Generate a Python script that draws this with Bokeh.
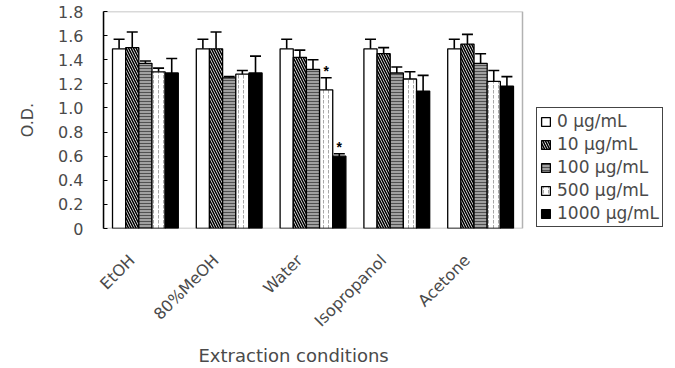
import numpy as np
from bokeh.plotting import figure
from bokeh.models import (ColumnDataSource, Whisker, TeeHead, FixedTicker, Legend,
                          LegendItem, LabelSet, Range1d, PrintfTickFormatter, BoxAnnotation, Title)
from bokeh.embed import file_html
from bokeh.resources import INLINE

categories = ["EtOH", "80%MeOH", "Water", "Isopropanol", "Acetone"]
series_labels = ["0 \u03bcg/mL", "10 \u03bcg/mL", "100 \u03bcg/mL", "500 \u03bcg/mL", "1000 \u03bcg/mL"]

od_0 = [1.49, 1.49, 1.49, 1.49, 1.49]
od_10 = [1.50, 1.49, 1.42, 1.45, 1.53]
od_100 = [1.37, 1.25, 1.32, 1.29, 1.37]
od_500 = [1.30, 1.28, 1.15, 1.24, 1.22]
od_1000 = [1.29, 1.29, 0.60, 1.14, 1.18]

err_0 = [0.08, 0.08, 0.08, 0.08, 0.08]
err_10 = [0.13, 0.14, 0.06, 0.05, 0.08]
err_100 = [0.02, 0.01, 0.08, 0.05, 0.08]
err_500 = [0.03, 0.03, 0.10, 0.06, 0.09]
err_1000 = [0.12, 0.14, 0.02, 0.13, 0.08]

sig_0 = ["", "", "", "", ""]
sig_10 = ["", "", "", "", ""]
sig_100 = ["", "", "", "", ""]
sig_500 = ["", "", "*", "", ""]
sig_1000 = ["", "", "*", "", ""]

y_ticks = [0, 0.2, 0.4, 0.6, 0.8, 1.0, 1.2, 1.4, 1.6, 1.8]

values = [od_0, od_10, od_100, od_500, od_1000]
errors = [err_0, err_10, err_100, err_500, err_1000]
sigs = [sig_0, sig_10, sig_100, sig_500, sig_1000]

styles = [
    dict(fill_color="white", hatch_pattern=None),
    dict(fill_color="white", hatch_pattern="\\", hatch_color="black", hatch_scale=5, hatch_weight=1.6),
    dict(fill_color="#a0a0a0", hatch_pattern="-", hatch_color="#505050", hatch_scale=3, hatch_weight=1),
    dict(fill_color="white", hatch_pattern=":", hatch_color="#a8a8a8", hatch_scale=5, hatch_weight=1),
    dict(fill_color="black", hatch_pattern=None),
]

FONT = "DejaVu Sans"
TXT = "#4a4a4a"

n_cat = len(categories)
x_lo, x_hi = -0.5, n_cat - 0.5
# frame extends to the right edge so the legend (outside the boxed plot area) is not clipped
frame_px = 675 - 103
box_px = 419
x_view_hi = x_lo + (x_hi - x_lo) * frame_px / box_px

p = figure(width=675, height=368, x_range=Range1d(x_lo, x_view_hi), y_range=Range1d(0, 1.8),
           output_backend="svg", toolbar_location=None,
           min_border_left=103, min_border_right=0, min_border_top=11, min_border_bottom=138)
p.grid.visible = False
p.outline_line_color = None
p.background_fill_color = "white"
p.border_fill_color = "white"

p.add_layout(BoxAnnotation(left=x_lo, right=x_hi, bottom=0, top=1.8, fill_alpha=0,
                           line_color="black", line_width=1.5, level="overlay"))

bar_w = 0.157
idx = np.arange(n_cat)
items = []
for j in range(5):
    xs = idx + (j - 2) * bar_w
    v = np.array(values[j])
    e = np.array(errors[j])
    src = ColumnDataSource(dict(x=xs, top=v, upper=v + e, lower=v - e, sig=sigs[j]))
    st = dict(styles[j])
    hp = st.pop("hatch_pattern")
    kw = dict(st)
    if hp:
        kw["hatch_pattern"] = hp
    r = p.vbar(x="x", top="top", width=bar_w, source=src, line_color="black", line_width=1.3, **kw)
    items.append(LegendItem(label=series_labels[j], renderers=[r]))
    w = Whisker(source=src, base="x", upper="upper", lower="lower", line_color="black", line_width=1.6,
                upper_head=TeeHead(size=11, line_color="black", line_width=1.6),
                lower_head=TeeHead(size=11, line_color="black", line_width=1.2))
    p.add_layout(w)
    ls = LabelSet(source=src, x="x", y="upper", text="sig", text_align="center", text_baseline="middle",
                  y_offset=7, text_font_size="14px", text_color="black", text_font_style="bold")
    p.add_layout(ls)

legend = Legend(items=items, location=(433, 1), orientation="vertical",
                label_text_font=FONT, label_text_font_size="17px", label_text_color=TXT,
                glyph_width=11, glyph_height=11, label_height=20, spacing=3, padding=3,
                margin=0, label_standoff=6,
                border_line_color="#444444", border_line_width=1.3, border_line_alpha=1.0,
                background_fill_color="white", background_fill_alpha=1)
p.add_layout(legend)

# axes
tick_shift = 0.16
p.xaxis.ticker = FixedTicker(ticks=[float(i) - tick_shift for i in idx])
p.xaxis.major_label_overrides = {float(i) - tick_shift: c for i, c in enumerate(categories)}
p.xaxis.major_label_orientation = np.pi / 4
p.xaxis.major_tick_line_color = None
p.xaxis.minor_tick_line_color = None
p.xaxis.major_label_text_font = FONT
p.xaxis.major_label_text_font_size = "16px"
p.xaxis.major_label_text_color = TXT
p.xaxis.major_label_standoff = 23
p.xaxis.axis_line_color = None

xtitle = Title(text="Extraction conditions", align="left", offset=95, standoff=6,
               text_font=FONT, text_font_size="18px", text_font_style="normal", text_color=TXT)
p.add_layout(xtitle, "below")

p.yaxis.ticker = FixedTicker(ticks=y_ticks)
p.yaxis.formatter = PrintfTickFormatter(format="%.1f")
p.yaxis.major_label_overrides = {0: "0"}
p.yaxis.major_tick_in = 4
p.yaxis.major_tick_out = 0
p.yaxis.minor_tick_line_color = None
p.yaxis.major_label_text_font = FONT
p.yaxis.major_label_text_font_size = "16px"
p.yaxis.major_label_text_color = TXT
p.yaxis.major_label_standoff = 20
p.yaxis.axis_label = "O.D."
p.yaxis.axis_label_text_font = FONT
p.yaxis.axis_label_text_font_size = "16px"
p.yaxis.axis_label_text_font_style = "normal"
p.yaxis.axis_label_text_color = TXT
p.yaxis.axis_label_standoff = 18
p.yaxis.axis_line_color = "black"
p.yaxis.axis_line_width = 1.5

open("out.html", "w").write(file_html(p, INLINE))
